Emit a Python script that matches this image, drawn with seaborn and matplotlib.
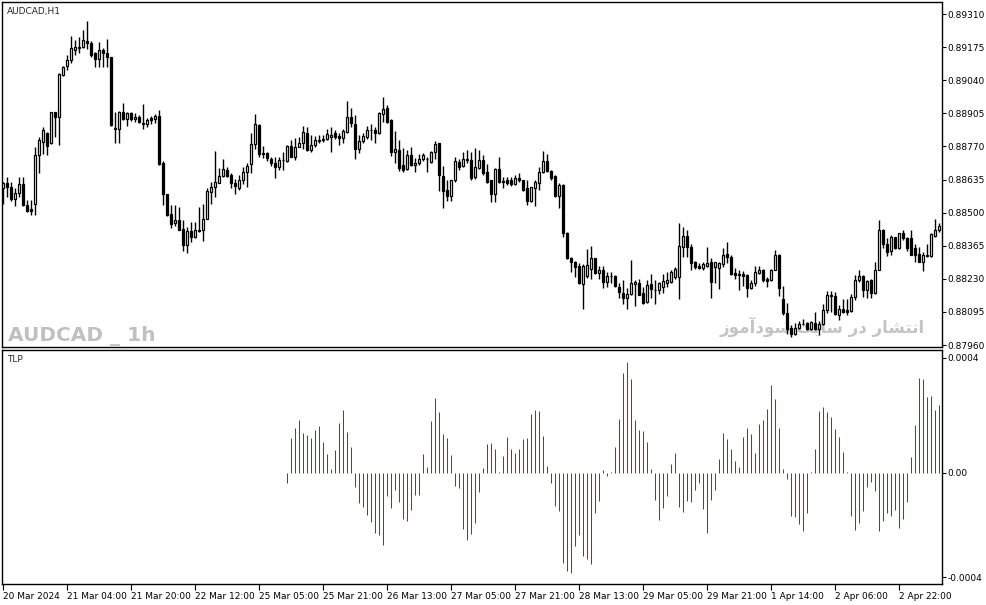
import numpy as np
import pandas as pd
import matplotlib
matplotlib.use("Agg")
import matplotlib.pyplot as plt
import seaborn as sns

# AUDCAD H1 candles, prices in points (1e-5)
open_pts = [
    88599, 88619, 88603, 88554, 88582, 88616, 88533, 88514, 88535, 88735,
    88789, 88823, 88782, 88909, 88888, 89061, 89096, 89121, 89165, 89172,
    89177, 89198, 89193, 89152, 89125, 89163, 89153, 89133, 88843, 88843,
    88909, 88882, 88907, 88882, 88888, 88864, 88862, 88885, 88882, 88894,
    88703, 88574, 88493, 88456, 88469, 88435, 88370, 88424, 88399, 88431,
    88429, 88476, 88585, 88603, 88622, 88649, 88672, 88654, 88622, 88601,
    88635, 88667, 88697, 88779, 88857, 88744, 88744, 88720, 88703, 88687,
    88713, 88712, 88772, 88728, 88769, 88782, 88826, 88755, 88775, 88794,
    88796, 88799, 88807, 88823, 88812, 88803, 88830, 88888, 88863, 88758,
    88792, 88809, 88838, 88837, 88823, 88902, 88925, 88878, 88746, 88755,
    88694, 88676, 88735, 88694, 88701, 88717, 88720, 88705, 88746, 88782,
    88649, 88592, 88569, 88633, 88707, 88691, 88716, 88714, 88646, 88680,
    88714, 88667, 88633, 88578, 88676, 88629, 88633, 88633, 88616, 88643,
    88633, 88601, 88547, 88601, 88622, 88664, 88710, 88669, 88650, 88569,
    88612, 88415, 88316, 88297, 88283, 88207, 88241, 88272, 88313, 88252,
    88268, 88218, 88242, 88241, 88195, 88174, 88153, 88168, 88208, 88215,
    88174, 88136, 88208, 88185, 88184, 88197, 88214, 88218, 88238, 88238,
    88361, 88404, 88361, 88297, 88282, 88275, 88283, 88299, 88279, 88275,
    88289, 88331, 88320, 88255, 88245, 88249, 88245, 88191, 88211, 88255,
    88265, 88229, 88227, 88268, 88329, 88146, 88089, 88030, 88007, 88030,
    88044, 88048, 88027, 88051, 88027, 88045, 88102, 88163, 88159, 88082,
    88109, 88102, 88099, 88157, 88225, 88241, 88184, 88225, 88173, 88268,
    88429, 88374, 88344, 88399, 88357, 88415, 88397, 88397, 88357, 88333,
    88299, 88323, 88323, 88404, 88429,
]
high_pts = [
    88626, 88646, 88626, 88599, 88646, 88646, 88551, 88551, 88769, 88809,
    88850, 88830, 88911, 88911, 89068, 89098, 89143, 89220, 89204, 89215,
    89245, 89283, 89201, 89156, 89197, 89173, 89208, 89136, 88911, 88914,
    88949, 88911, 88911, 88905, 88898, 88943, 88885, 88895, 88901, 88918,
    88710, 88578, 88531, 88531, 88524, 88469, 88442, 88463, 88463, 88524,
    88535, 88601, 88626, 88751, 88680, 88717, 88687, 88660, 88639, 88653,
    88687, 88701, 88823, 88901, 88860, 88773, 88748, 88728, 88728, 88728,
    88748, 88775, 88796, 88803, 88809, 88853, 88850, 88816, 88812, 88816,
    88816, 88843, 88850, 88837, 88823, 88841, 88955, 88925, 88898, 88816,
    88826, 88854, 88863, 88850, 88911, 88970, 88939, 88880, 88833, 88796,
    88762, 88755, 88769, 88721, 88739, 88744, 88728, 88752, 88793, 88785,
    88690, 88633, 88635, 88728, 88717, 88748, 88755, 88748, 88765, 88755,
    88735, 88697, 88635, 88680, 88728, 88646, 88646, 88646, 88653, 88663,
    88634, 88633, 88605, 88633, 88687, 88752, 88739, 88673, 88653, 88622,
    88616, 88422, 88320, 88303, 88295, 88290, 88350, 88363, 88316, 88283,
    88282, 88259, 88259, 88244, 88211, 88225, 88191, 88306, 88227, 88231,
    88197, 88225, 88249, 88225, 88218, 88249, 88259, 88265, 88279, 88459,
    88442, 88429, 88374, 88303, 88293, 88299, 88358, 88316, 88299, 88299,
    88354, 88381, 88327, 88275, 88268, 88263, 88249, 88225, 88282, 88283,
    88272, 88238, 88272, 88347, 88333, 88200, 88130, 88041, 88048, 88059,
    88068, 88055, 88059, 88095, 88059, 88127, 88181, 88180, 88177, 88123,
    88146, 88146, 88170, 88244, 88265, 88245, 88227, 88231, 88299, 88469,
    88435, 88395, 88408, 88401, 88418, 88429, 88401, 88429, 88372, 88361,
    88340, 88374, 88415, 88476, 88456,
]
low_pts = [
    88537, 88565, 88548, 88528, 88565, 88528, 88503, 88490, 88490, 88660,
    88741, 88735, 88780, 88809, 88775, 89057, 89081, 89109, 89143, 89150,
    89170, 89168, 89136, 89095, 89095, 89095, 89095, 88853, 88785, 88782,
    88878, 88853, 88875, 88871, 88864, 88841, 88848, 88863, 88864, 88694,
    88533, 88486, 88438, 88445, 88429, 88344, 88336, 88381, 88395, 88422,
    88385, 88473, 88535, 88565, 88619, 88646, 88646, 88599, 88578, 88592,
    88616, 88605, 88660, 88758, 88728, 88721, 88712, 88690, 88642, 88673,
    88673, 88708, 88725, 88714, 88766, 88758, 88752, 88748, 88769, 88782,
    88789, 88796, 88748, 88799, 88775, 88785, 88823, 88850, 88718, 88744,
    88782, 88799, 88796, 88785, 88820, 88871, 88867, 88731, 88701, 88671,
    88667, 88673, 88690, 88667, 88694, 88712, 88667, 88701, 88717, 88589,
    88520, 88548, 88548, 88626, 88673, 88687, 88701, 88635, 88639, 88676,
    88653, 88622, 88544, 88544, 88622, 88599, 88612, 88610, 88612, 88626,
    88589, 88533, 88544, 88528, 88592, 88660, 88667, 88635, 88565, 88517,
    88401, 88309, 88259, 88238, 88208, 88105, 88235, 88231, 88248, 88231,
    88191, 88195, 88214, 88195, 88150, 88127, 88105, 88163, 88119, 88163,
    88127, 88132, 88150, 88127, 88170, 88173, 88197, 88211, 88231, 88146,
    88320, 88320, 88265, 88272, 88272, 88265, 88279, 88150, 88211, 88187,
    88279, 88293, 88245, 88231, 88184, 88200, 88157, 88187, 88200, 88249,
    88218, 88197, 88222, 88265, 88159, 88082, 88007, 87991, 88000, 88027,
    88041, 88023, 88023, 88021, 88000, 88041, 88089, 88095, 88082, 88061,
    88089, 88082, 88095, 88143, 88218, 88157, 88153, 88150, 88170, 88265,
    88354, 88324, 88327, 88350, 88351, 88388, 88344, 88327, 88299, 88297,
    88261, 88320, 88320, 88401, 88422,
]
close_pts = [
    88622, 88603, 88555, 88582, 88616, 88533, 88507, 88507, 88733, 88796,
    88837, 88773, 88909, 88888, 89065, 89092, 89121, 89170, 89174, 89174,
    89204, 89190, 89143, 89125, 89165, 89153, 89133, 88857, 88846, 88910,
    88882, 88905, 88882, 88891, 88871, 88863, 88878, 88878, 88894, 88698,
    88574, 88490, 88452, 88469, 88431, 88370, 88424, 88399, 88431, 88424,
    88476, 88588, 88603, 88626, 88649, 88676, 88649, 88622, 88610, 88635,
    88667, 88692, 88779, 88860, 88741, 88739, 88721, 88701, 88687, 88714,
    88714, 88772, 88728, 88769, 88782, 88827, 88755, 88775, 88796, 88796,
    88800, 88819, 88816, 88807, 88803, 88833, 88888, 88864, 88758, 88792,
    88812, 88839, 88837, 88823, 88905, 88922, 88871, 88748, 88758, 88683,
    88673, 88735, 88694, 88703, 88717, 88735, 88718, 88746, 88779, 88653,
    88589, 88567, 88633, 88710, 88687, 88718, 88717, 88642, 88687, 88714,
    88660, 88626, 88578, 88676, 88626, 88623, 88622, 88616, 88643, 88633,
    88592, 88547, 88603, 88623, 88664, 88710, 88669, 88642, 88567, 88612,
    88415, 88316, 88297, 88279, 88211, 88283, 88286, 88313, 88252, 88268,
    88218, 88241, 88241, 88200, 88177, 88150, 88168, 88211, 88218, 88166,
    88132, 88204, 88187, 88184, 88215, 88222, 88225, 88259, 88272, 88363,
    88404, 88361, 88295, 88279, 88275, 88289, 88293, 88218, 88297, 88293,
    88329, 88320, 88249, 88245, 88249, 88241, 88191, 88211, 88259, 88265,
    88225, 88222, 88268, 88329, 88191, 88089, 88027, 88007, 88030, 88045,
    88045, 88027, 88055, 88027, 88045, 88102, 88163, 88159, 88085, 88109,
    88095, 88095, 88157, 88225, 88241, 88184, 88221, 88173, 88268, 88429,
    88374, 88340, 88401, 88354, 88415, 88397, 88354, 88329, 88327, 88299,
    88327, 88327, 88411, 88431, 88446,
]

# TLP histogram (units of 1e-4), starts at bar 71
tlp_start = 71
tlp_e4 = [
    -0.35, 1.22, 1.55, 1.83, 1.38, 1.31, 1.22, 1.48, 1.62, 1.07,
    0.65, 0.13, 0.79, 1.74, 2.18, 1.41, 0.89, -0.49, -1.04, -1.18,
    -1.46, -1.70, -2.09, -2.16, -2.50, -0.81, -1.22, -0.59, -1.01, -1.60,
    -1.67, -1.29, -0.77, -0.77, 0.65, 0.20, 1.80, 2.60, 2.11, 1.34,
    1.21, 0.61, -0.45, -0.52, -1.95, -2.33, -2.12, -1.74, -0.66, 0.16,
    1.00, 1.03, 0.82, 0.02,
    0.58, 1.24, 0.82, 0.68, 0.82, 1.17, 1.21, 2.04, 2.18, 2.14,
    1.28, 0.23, -0.35, -1.15, -1.32, -3.13, -3.41, -3.48, -2.54, -2.16,
    -2.89, -2.99, -3.17, -1.39, -0.97, 0.09, -0.10, 0.02, 0.89, 1.87,
    3.47, 3.85, 3.26, 1.83, 1.48, 1.45, 1.07, 0.13, -0.94, -1.63,
    -1.22, -0.80, 0.30, 0.68, -1.18, -1.36, -0.97, -1.01, -0.59, -0.35,
    -1.25, -2.09, -0.94, -0.59, 0.48, 1.38, 1.17, 0.82, 0.41, 0.20,
    1.24, 1.55, 1.34, 0.68, 1.69, 1.83, 2.21, 3.05, 2.56, 1.55,
    0.13, -0.21, -1.50, -1.53, -1.77, -2.02, -1.39, 0.02, 0.82, 2.14,
    2.28, 2.11, 1.94, 1.52, 1.24, 0.72, 0.02, -1.50, -1.98, -1.74,
    -1.32, -0.49, -0.31, -0.63, -2.02, -1.67, -1.39, -1.50, -1.29, -1.91,
    -1.60, -1.01, 0.54, 1.66, 3.29, 3.26, 2.63, 2.67, 2.18, 2.35,
]
# g = green, r = red
tlp_state = list(
    "ggggggggggggg" "r" "ggg" "rr" "ggggggg" "rrrrrrrrrrr" "g" "rrrrrrrrrrrrrrrr"
    "rrrrrrrrrr" "ggg" "rrrrrrrrrrrrrrrrrrrrrrrrrrrrrrr" "gggggggg" "rr" "gggg"
    "rrrrrrrrrr" "g" "rrrrrrrrrrrr" "ggg" "r" "g" "r" "ggggggggggggggggggggggg"
)

price_ticks = [0.89310, 0.89175, 0.89040, 0.88905, 0.88770, 0.88635,
               0.88500, 0.88365, 0.88230, 0.88095, 0.87960]
time_labels = ["20 Mar 2024", "21 Mar 04:00", "21 Mar 20:00", "22 Mar 12:00",
               "25 Mar 05:00", "25 Mar 21:00", "26 Mar 13:00", "27 Mar 05:00",
               "27 Mar 21:00", "28 Mar 13:00", "29 Mar 05:00", "29 Mar 21:00",
               "1 Apr 14:00", "2 Apr 06:00", "2 Apr 22:00"]
label_every = 16

# watermark: "انتشار در سایت سودآموز" written in visual order with presentation forms
fa_mark = ("\uFEAF\uFEEE\uFEE3\uFE81\uFEA9\uFEEE\uFEB3 "
           "\uFE96\uFEF3\uFE8E\uFEB3 "
           "\uFEAD\uFEA9 "
           "\uFEAD\uFE8E\uFEB8\uFE98\uFEE7\uFE8D")

sns.set_style("white")
plt.rcParams['font.family'] = ['DejaVu Sans']

opens = np.array(open_pts) / 1e5
highs = np.array(high_pts) / 1e5
lows = np.array(low_pts) / 1e5
closes = np.array(close_pts) / 1e5
x = np.arange(len(opens))

W, H = 987, 605
fig = plt.figure(figsize=(W / 100, H / 100), dpi=100)
fig.patch.set_facecolor('white')
ax = fig.add_axes([2 / W, (H - 347) / H, 940 / W, 345 / H])
ax2 = fig.add_axes([2 / W, (H - 584) / H, 940 / W, 234 / H])

# candles
up = closes >= opens
ax.vlines(x, lows, highs, color='black', lw=1, zorder=3)
ax.bar(x, np.abs(closes - opens), bottom=np.minimum(opens, closes), width=0.62,
       color=np.where(up, 'white', 'black'), edgecolor='black', linewidth=0.9, zorder=4)

ax.set_xlim(-0.25, len(x) - 0.25)
ax.set_ylim(0.87952, 0.89359)
ax.set_yticks(price_ticks)
ax.set_yticklabels([f"{p:.5f}" for p in price_ticks])
ax.yaxis.tick_right()
ax.tick_params(axis='y', length=3, width=0.8, pad=1, labelsize=6.5, direction='out', colors='black')
ax.tick_params(axis='x', bottom=False, labelbottom=False)

ax.text(0.0053, 0.986, "AUDCAD,H1", transform=ax.transAxes, fontsize=6.5, va='top', ha='left')
ax.text(0.0064, 0.016, "AUDCAD _ 1h", transform=ax.transAxes, fontsize=14.5, fontweight='bold',
        color='#c0c0c0', va='baseline', ha='left', zorder=1)
ax.text(0.982, 0.04, fa_mark, transform=ax.transAxes, fontsize=12, fontweight='bold',
        color='#c4c4c4', va='baseline', ha='right', zorder=1)

# TLP histogram
tlp = pd.DataFrame({
    'bar': np.arange(tlp_start, tlp_start + len(tlp_e4)),
    'tlp': np.array(tlp_e4) * 1e-4,
    'state': tlp_state,
})
sns.barplot(data=tlp, x='bar', y='tlp', hue='state', palette={'g': '#008000', 'r': '#ff0000'},
            native_scale=True, dodge=False, width=0.05, errorbar=None, legend=False,
            saturation=1, ax=ax2)
# draw each bar as a 1px line, like the terminal does
for p in ax2.patches:
    p.set_edgecolor(p.get_facecolor())
    p.set_linewidth(0.75)

ax2.set_xlim(-0.25, len(x) - 0.25)
ax2.set_ylim(-3.87e-4, 4.27e-4)
ax2.set_xlabel("")
ax2.set_ylabel("")
ax2.set_yticks([4.0e-4, 0.0, -3.63e-4])
ax2.set_yticklabels(["0.0004", "0.00", "-0.0004"])
ax2.yaxis.tick_right()
ax2.tick_params(axis='y', length=3, width=0.8, pad=1, labelsize=6.5, direction='out', colors='black')
tick_pos = np.arange(len(time_labels)) * label_every
ax2.set_xticks(tick_pos)
ax2.set_xticklabels(time_labels, ha='left')
ax2.tick_params(axis='x', bottom=True, length=4, width=0.8, pad=1.5, labelsize=6.5,
                direction='out', colors='black')
ax2.text(0.0053, 0.98, "TLP", transform=ax2.transAxes, fontsize=6.5, va='top', ha='left')

for a in (ax, ax2):
    a.set_facecolor('white')
    a.grid(False)
    for s in a.spines.values():
        s.set_visible(True)
        s.set_color('black')
        s.set_linewidth(1)

fig.savefig("out.png", dpi=100, facecolor='white')
